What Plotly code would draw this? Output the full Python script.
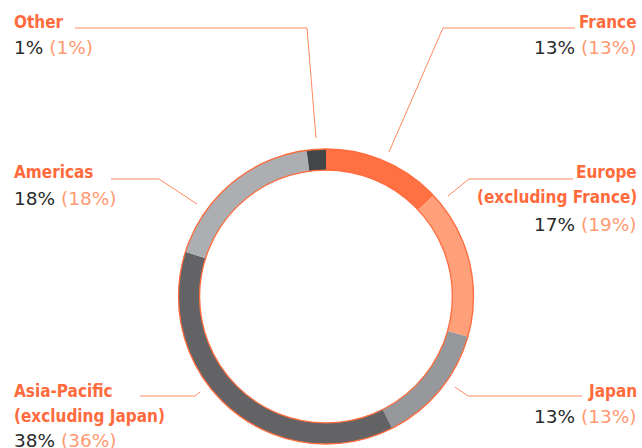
import plotly.graph_objects as go

W, H = 642, 448

# ---- data ----
regions = ["France", "Europe (excluding France)", "Japan",
           "Asia-Pacific (excluding Japan)", "Americas", "Other"]
label_lines = [["France"], ["Europe", "(excluding France)"], ["Japan"],
               ["Asia-Pacific", "(excluding Japan)"], ["Americas"], ["Other"]]
share_arc = [13.0, 16.4, 13.2, 37.3, 18.0, 2.1]   # arc sizes as drawn
pct_current = ["13%", "17%", "13%", "38%", "18%", "1%"]
pct_previous = ["(13%)", "(19%)", "(13%)", "(36%)", "(18%)", "(1%)"]
slice_colors = ["#ff7043", "#ffa07a", "#97989b", "#636366", "#adaeb1", "#444547"]

ORANGE = "#ff6b3d"
LIGHT_ORANGE = "#ff9a72"
LINE_ORANGE = "#ff8a60"
DARK = "#2a2a2a"

# ---- layout geometry (pixels) ----
cx, cy, R = 326.0, 296.5, 147.5
hole = 0.857

def X(px):
    return px / W

def Y(py):
    return 1 - py / H

fig = go.Figure()
fig.add_trace(go.Pie(
    labels=regions, values=share_arc, sort=False, direction="clockwise",
    rotation=0, hole=hole, textinfo="none", hoverinfo="label+percent",
    marker=dict(colors=slice_colors, line=dict(width=0)),
    domain=dict(x=[X(cx - R), X(cx + R)], y=[Y(cy + R), Y(cy - R)]),
    showlegend=False,
))

shapes = []
# ring outlines
for r in (R, R * hole):
    shapes.append(dict(type="circle", xref="paper", yref="paper",
                       x0=X(cx - r), x1=X(cx + r), y0=Y(cy + r), y1=Y(cy - r),
                       line=dict(color=ORANGE, width=1.3), fillcolor="rgba(0,0,0,0)"))

# leader lines (polyline pixel paths)
leaders = [
    [(389, 152), (443, 28), (575, 28)],          # France
    [(448, 196), (469, 179), (573, 179)],        # Europe
    [(455, 387), (468, 396), (582, 396)],        # Japan
    [(200, 392), (195, 396), (140, 396)],        # Asia-Pacific
    [(197, 204), (159, 179), (111, 179)],        # Americas
    [(316, 138), (307, 28), (75, 28)],           # Other
]
for pts in leaders:
    path = "M " + " L ".join(f"{X(px):.5f},{Y(py):.5f}" for px, py in pts)
    shapes.append(dict(type="path", xref="paper", yref="paper", path=path,
                       line=dict(color=LINE_ORANGE, width=1)))

# labels: (x pixel, anchor, centers of label lines, center of value line)
label_pos = [
    (639, "right", [22], 48),
    (639, "right", [172.5, 197], 224),
    (639, "right", [391], 416),
    (11.5, "left", [391, 416], 440),
    (11.5, "left", [172.5], 198),
    (11.5, "left", [22], 48),
]

LABEL_FONT = "Liberation Sans Narrow, DejaVu Sans Condensed, Arial Narrow, sans-serif"
VALUE_FONT = "DejaVu Sans, sans-serif"

annotations = []
for i in range(len(regions)):
    px, anchor, ys, yv = label_pos[i]
    for txt, yy in zip(label_lines[i], ys):
        annotations.append(dict(
            x=X(px), y=Y(yy), xref="paper", yref="paper", xanchor=anchor,
            yanchor="middle", showarrow=False, text=f"<b>{txt}</b>",
            font=dict(family=LABEL_FONT, size=17, color=ORANGE)))
    annotations.append(dict(
        x=X(px), y=Y(yv), xref="paper", yref="paper", xanchor=anchor,
        yanchor="middle", showarrow=False,
        text=f"{pct_current[i]} <span style='color:{LIGHT_ORANGE}'>{pct_previous[i]}</span>",
        font=dict(family=VALUE_FONT, size=18.5, color=DARK)))

fig.update_layout(
    width=W, height=H, autosize=False,
    margin=dict(l=0, r=0, t=0, b=0),
    paper_bgcolor="white", plot_bgcolor="white",
    shapes=shapes, annotations=annotations,
)

fig.write_html("out.html", config={"displayModeBar": False},
               post_script="document.body.style.margin='0';")
